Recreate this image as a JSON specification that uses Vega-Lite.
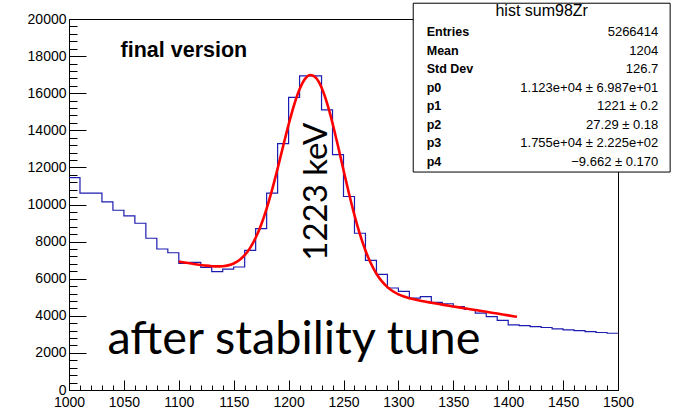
{
  "$schema": "https://vega.github.io/schema/vega-lite/v6.json",
  "width": 549,
  "height": 371,
  "autosize": {"type": "none"},
  "padding": {"left": 69, "top": 19, "right": 62, "bottom": 24},
  "background": "white",
  "config": {
    "view": {"stroke": "black", "strokeWidth": 1},
    "font": "Liberation Sans",
    "axis": {"domainColor": "black", "tickColor": "black", "labelColor": "black", "labelFont": "Liberation Sans", "labelFontSize": 14, "title": null, "grid": false, "tickWidth": 1, "domainWidth": 1}
  },
  "datasets": {
    "hist": [
      {"E": 1000, "counts": 11450}, {"E": 1010, "counts": 10610}, {"E": 1020, "counts": 10610}, {"E": 1030, "counts": 10140},
      {"E": 1040, "counts": 9690}, {"E": 1050, "counts": 9390}, {"E": 1060, "counts": 8990}, {"E": 1070, "counts": 8180},
      {"E": 1080, "counts": 7600}, {"E": 1090, "counts": 7400}, {"E": 1100, "counts": 6830}, {"E": 1110, "counts": 6880},
      {"E": 1120, "counts": 6610}, {"E": 1130, "counts": 6380}, {"E": 1140, "counts": 6520}, {"E": 1150, "counts": 6630},
      {"E": 1160, "counts": 7530}, {"E": 1170, "counts": 8700}, {"E": 1180, "counts": 10610}, {"E": 1190, "counts": 13280},
      {"E": 1200, "counts": 15770}, {"E": 1210, "counts": 16930}, {"E": 1220, "counts": 16930}, {"E": 1230, "counts": 15100},
      {"E": 1240, "counts": 12690}, {"E": 1250, "counts": 10430}, {"E": 1260, "counts": 8450}, {"E": 1270, "counts": 6990},
      {"E": 1280, "counts": 6230}, {"E": 1290, "counts": 5500}, {"E": 1300, "counts": 5320}, {"E": 1310, "counts": 4950},
      {"E": 1320, "counts": 5030}, {"E": 1330, "counts": 4720}, {"E": 1340, "counts": 4650}, {"E": 1350, "counts": 4500},
      {"E": 1360, "counts": 4340}, {"E": 1370, "counts": 4140}, {"E": 1380, "counts": 3960}, {"E": 1390, "counts": 3750},
      {"E": 1400, "counts": 3510}, {"E": 1410, "counts": 3470}, {"E": 1420, "counts": 3420}, {"E": 1430, "counts": 3370},
      {"E": 1440, "counts": 3300}, {"E": 1450, "counts": 3240}, {"E": 1460, "counts": 3200}, {"E": 1470, "counts": 3150},
      {"E": 1480, "counts": 3100}, {"E": 1490, "counts": 3060}, {"E": 1500, "counts": 3060}
    ],
    "fit": [
      {"E": 1100, "f": 6922}, {"E": 1105, "f": 6875}, {"E": 1110, "f": 6828}, {"E": 1115, "f": 6783},
      {"E": 1120, "f": 6741}, {"E": 1125, "f": 6703}, {"E": 1130, "f": 6675}, {"E": 1135, "f": 6662},
      {"E": 1140, "f": 6673}, {"E": 1145, "f": 6719}, {"E": 1150, "f": 6819}, {"E": 1155, "f": 6993},
      {"E": 1160, "f": 7266}, {"E": 1165, "f": 7662}, {"E": 1170, "f": 8205}, {"E": 1175, "f": 8910},
      {"E": 1180, "f": 9782}, {"E": 1185, "f": 10805}, {"E": 1190, "f": 11943}, {"E": 1195, "f": 13137},
      {"E": 1200, "f": 14308}, {"E": 1205, "f": 15364}, {"E": 1210, "f": 16213}, {"E": 1215, "f": 16773},
      {"E": 1220, "f": 16984}, {"E": 1225, "f": 16824}, {"E": 1230, "f": 16302}, {"E": 1235, "f": 15463},
      {"E": 1240, "f": 14382}, {"E": 1245, "f": 13150}, {"E": 1250, "f": 11858}, {"E": 1255, "f": 10592},
      {"E": 1260, "f": 9421}, {"E": 1265, "f": 8389}, {"E": 1270, "f": 7519}, {"E": 1275, "f": 6817},
      {"E": 1280, "f": 6268}, {"E": 1285, "f": 5852}, {"E": 1290, "f": 5545}, {"E": 1295, "f": 5322},
      {"E": 1300, "f": 5159}, {"E": 1305, "f": 5039}, {"E": 1310, "f": 4948}, {"E": 1315, "f": 4875},
      {"E": 1320, "f": 4812}, {"E": 1330, "f": 4703}, {"E": 1340, "f": 4604}, {"E": 1350, "f": 4506},
      {"E": 1360, "f": 4410}, {"E": 1370, "f": 4313}, {"E": 1380, "f": 4216}, {"E": 1390, "f": 4120},
      {"E": 1400, "f": 4023}, {"E": 1408, "f": 3946}
    ],
    "stats": [
      {"label": "Entries", "value": "5266414"},
      {"label": "Mean", "value": "1204"},
      {"label": "Std Dev", "value": "126.7"},
      {"label": "p0", "value": "1.123e+04 ± 6.987e+01"},
      {"label": "p1", "value": "1221 ± 0.2"},
      {"label": "p2", "value": "27.29 ± 0.18"},
      {"label": "p3", "value": "1.755e+04 ± 2.225e+02"},
      {"label": "p4", "value": "−9.662 ± 0.170"}
    ]
  },
  "layer": [
    {
      "layer": [
        {
          "data": {"name": "hist"},
          "mark": {"type": "line", "interpolate": "step-after", "color": "#1c1cb0", "strokeWidth": 1.2},
          "encoding": {
            "x": {"field": "E", "type": "quantitative", "scale": {"domain": [1000, 1500], "nice": false, "zero": false},
              "axis": {"orient": "bottom", "values": [1000, 1050, 1100, 1150, 1200, 1250, 1300, 1350, 1400, 1450, 1500], "format": "d", "tickSize": -10, "labelPadding": 15, "labelFlush": false, "labelOverlap": false}},
            "y": {"field": "counts", "type": "quantitative", "scale": {"domain": [0, 20000], "nice": false, "zero": false},
              "axis": {"orient": "left", "values": [0, 2000, 4000, 6000, 8000, 10000, 12000, 14000, 16000, 18000, 20000], "format": "d", "tickSize": -17, "labelPadding": 20, "labelFlush": false, "labelOverlap": false}}
          }
        },
        {
          "data": {"name": "fit"},
          "mark": {"type": "line", "interpolate": "monotone", "color": "#ff0000", "strokeWidth": 2.6},
          "encoding": {
            "x": {"field": "E", "type": "quantitative", "scale": {"domain": [1000, 1500], "nice": false, "zero": false},
              "axis": {"orient": "bottom", "values": [1010, 1020, 1030, 1040, 1060, 1070, 1080, 1090, 1110, 1120, 1130, 1140, 1160, 1170, 1180, 1190, 1210, 1220, 1230, 1240, 1260, 1270, 1280, 1290, 1310, 1320, 1330, 1340, 1360, 1370, 1380, 1390, 1410, 1420, 1430, 1440, 1460, 1470, 1480, 1490], "tickSize": -5, "labels": false, "domain": false}},
            "y": {"field": "f", "type": "quantitative", "scale": {"domain": [0, 20000], "nice": false, "zero": false},
              "axis": {"orient": "left", "values": [400, 800, 1200, 1600, 2400, 2800, 3200, 3600, 4400, 4800, 5200, 5600, 6400, 6800, 7200, 7600, 8400, 8800, 9200, 9600, 10400, 10800, 11200, 11600, 12400, 12800, 13200, 13600, 14400, 14800, 15200, 15600, 16400, 16800, 17200, 17600, 18400, 18800, 19200, 19600], "tickSize": -8, "labels": false, "domain": false}}
          }
        },
        {
          "data": {"values": [{"box": "stats"}]},
          "mark": {"type": "rect", "fill": "white", "stroke": "black", "strokeWidth": 1},
          "encoding": {
            "x": {"datum": 1313.5, "type": "quantitative", "scale": {"domain": [1000, 1500], "nice": false, "zero": false}, "axis": null},
            "x2": {"datum": 1547.5},
            "y": {"datum": 20850, "type": "quantitative", "scale": {"domain": [0, 20000], "nice": false, "zero": false}, "axis": null},
            "y2": {"datum": 11750}
          }
        },
        {
          "data": {"values": [{"note": "hist sum98Zr"}]},
          "mark": {"type": "text", "font": "Liberation Sans", "fontSize": 16, "align": "center", "baseline": "alphabetic", "color": "black"},
          "encoding": {
            "x": {"datum": 1430.5, "type": "quantitative", "scale": {"domain": [1000, 1500], "nice": false, "zero": false}, "axis": null},
            "y": {"datum": 20160, "type": "quantitative", "scale": {"domain": [0, 20000], "nice": false, "zero": false}, "axis": null},
            "text": {"field": "note"}
          }
        },
        {
          "data": {"values": [{"note": "final version"}]},
          "mark": {"type": "text", "font": "Liberation Sans", "fontWeight": "bold", "fontSize": 21.5, "align": "left", "baseline": "alphabetic", "color": "black"},
          "encoding": {
            "x": {"datum": 1047, "type": "quantitative", "scale": {"domain": [1000, 1500], "nice": false, "zero": false}, "axis": null},
            "y": {"datum": 17970, "type": "quantitative", "scale": {"domain": [0, 20000], "nice": false, "zero": false}, "axis": null},
            "text": {"field": "note"}
          }
        },
        {
          "data": {"values": [{"note": "1223 keV"}]},
          "mark": {"type": "text", "font": "Lato", "fontSize": 33, "align": "center", "baseline": "alphabetic", "angle": 270, "color": "black"},
          "encoding": {
            "x": {"datum": 1234.7, "type": "quantitative", "scale": {"domain": [1000, 1500], "nice": false, "zero": false}, "axis": null},
            "y": {"datum": 10690, "type": "quantitative", "scale": {"domain": [0, 20000], "nice": false, "zero": false}, "axis": null},
            "text": {"field": "note"}
          }
        },
        {
          "data": {"values": [{"note": "after stability tune"}]},
          "mark": {"type": "text", "font": "Lato", "fontSize": 46.8, "align": "left", "baseline": "alphabetic", "color": "black"},
          "encoding": {
            "x": {"datum": 1035, "type": "quantitative", "scale": {"domain": [1000, 1500], "nice": false, "zero": false}, "axis": null},
            "y": {"datum": 1940, "type": "quantitative", "scale": {"domain": [0, 20000], "nice": false, "zero": false}, "axis": null},
            "text": {"field": "note"}
          }
        }
      ],
      "resolve": {"axis": {"x": "independent", "y": "independent"}}
    },
    {
      "data": {"name": "stats"},
      "encoding": {
        "y": {"field": "label", "type": "ordinal", "sort": null, "scale": {"type": "point", "range": [13.3, 142.7], "padding": 0}, "axis": null}
      },
      "layer": [
        {
          "mark": {"type": "text", "font": "Liberation Sans", "fontWeight": "bold", "fontSize": 12.5, "align": "left", "baseline": "middle", "color": "black"},
          "encoding": {
            "x": {"datum": 1325.8, "type": "quantitative", "scale": {"domain": [1000, 1500], "nice": false, "zero": false}, "axis": null},
            "text": {"field": "label"}
          }
        },
        {
          "mark": {"type": "text", "font": "Liberation Sans", "fontSize": 13, "align": "right", "baseline": "middle", "color": "black"},
          "encoding": {
            "x": {"datum": 1536.7, "type": "quantitative", "scale": {"domain": [1000, 1500], "nice": false, "zero": false}, "axis": null},
            "text": {"field": "value"}
          }
        }
      ]
    }
  ],
  "resolve": {"scale": {"y": "independent"}, "axis": {"x": "independent", "y": "independent"}}
}
